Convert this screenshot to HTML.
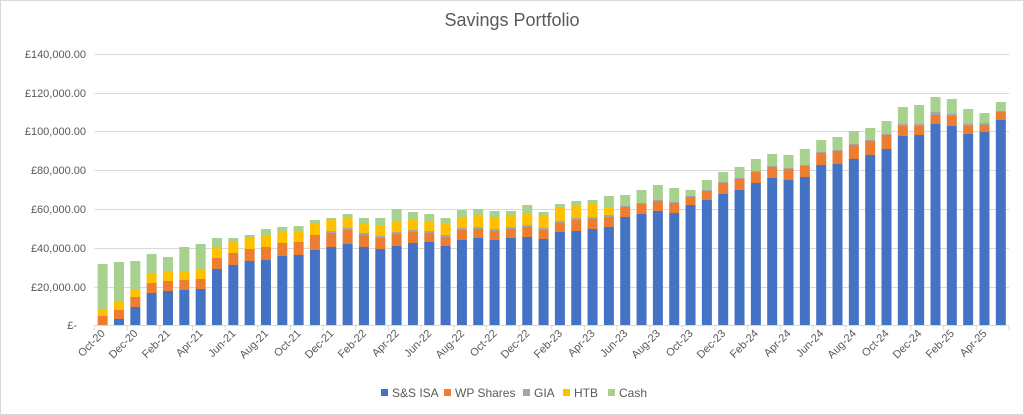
<!DOCTYPE html>
<html><head><meta charset="utf-8"><style>
body{margin:0;background:#fff}
svg{display:block;font-family:"Liberation Sans",sans-serif}
</style></head><body>
<svg id="c" width="1024" height="415" xmlns="http://www.w3.org/2000/svg">
<rect x="0.5" y="0.5" width="1023" height="414" fill="#fff" stroke="#d9d9d9"/>
<text x="512" y="26" text-anchor="middle" font-size="18" fill="#595959">Savings Portfolio</text>
<g id="grid" stroke="#d9d9d9" stroke-width="1"></g>
<g id="bars"></g>
<g id="lab" font-size="11" fill="#595959"></g>
<g font-size="12" fill="#595959">
<rect x="381" y="389" width="7" height="7" fill="#4472C4"/><text x="392" y="397">S&amp;S ISA</text>
<rect x="444" y="389" width="7" height="7" fill="#ED7D31"/><text x="455" y="397">WP Shares</text>
<rect x="523" y="389" width="7" height="7" fill="#A5A5A5"/><text x="534" y="397">GIA</text>
<rect x="563" y="389" width="7" height="7" fill="#FFC000"/><text x="574" y="397">HTB</text>
<rect x="608" y="389" width="7" height="7" fill="#A9D18E"/><text x="619" y="397">Cash</text>
</g>
</svg>
<script>
var B=325;
var d=[
[325,316,316,309,264],[319,310,310,302,262],[307,297,297,290,261],[293,283,283,274,254],[291,281,281,272,257],
[290,280,280,271,247],[289,279,279,269,244],[269,258,258,248,238],[265,253,253,242,238],[261,249,249,238,235],
[260,247,247,235,229],[256,243,243,232,227],[255,242,242,231,226],[250,235,235,224,220],[247,233,231,220,218],
[244,230,228,218,214],[247,235,233,223,218],[249,238,236,226,218],[246,234,232,222,209],[243,232,230,219,212],
[242,233,231,222,214],[246,237,235,224,218],[240,230,228,217,210],[238,229,227,215,209],[240,231,229,217,211],
[238,229,227,215,211],[237,227,225,213,205],[239,230,228,215,212],[232,223,221,207,204],[231,220,218,205,201],
[229,219,217,203,200],[227,217,215,207,196],[217,207,206,205,195],[214,204,203,203,190],[211,201,200,200,185],
[213,203,202,202,188],[205,197,196,196,190],[200,191,190,190,180],[194,183,182,182,172],[190,179,178,178,167],
[183,172,171,171,159],[178,167,166,166,154],[180,169,168,168,155],[177,166,165,165,149],[165,153,152,152,140],
[164,151,150,150,137],[159,145,144,144,131],[155,141,140,140,128],[149,135,134,134,121],[136,126,124,124,107],
[135,126,124,124,105],[124,115,112,112,97],[126,116,114,114,99],[134,126,124,124,109],[132,125,123,123,113],
[120,112,111,111,102]];
var cols=["#4472C4","#ED7D31","#A5A5A5","#FFC000","#A9D18E"];
var ns="http://www.w3.org/2000/svg";
function el(p,t,a,txt){var e=document.createElementNS(ns,t);for(var k in a)e.setAttribute(k,a[k]);if(txt)e.textContent=txt;p.appendChild(e);return e;}
var g=document.getElementById('grid'),lab=document.getElementById('lab'),bars=document.getElementById('bars');
var ys=[325,287,248,209,170,131,93,54];
var names=["£-","£20,000.00","£40,000.00","£60,000.00","£80,000.00","£100,000.00","£120,000.00","£140,000.00"];
for(var i=0;i<8;i++){ if(i>0)el(g,'line',{x1:94.5,x2:1009,y1:ys[i]+0.5,y2:ys[i]+0.5});
 el(lab,'text',{x:i==0?77:86,y:ys[i]+4,'text-anchor':'end'},names[i]);}
el(g,'line',{x1:94.5,x2:1009,y1:325.5,y2:325.5});
var L=94.5,W=16.33;
for(var i=0;i<=56;i+=2)el(g,'line',{x1:L+i*W,x2:L+i*W,y1:325.5,y2:330.5});
var mon=["Jan","Feb","Mar","Apr","May","Jun","Jul","Aug","Sep","Oct","Nov","Dec"];
for(var i=0;i<56;i++){
 var cx=L+W*(i+0.5),x=cx-5,prev=B,r=d[i];
 for(var s=0;s<5;s++){var t=r[s];if(t<prev){el(bars,'rect',{x:x,y:t,width:10,height:prev-t,fill:cols[s]});prev=t;}}
 if(i%2==0){var m=(9+i)%12,y=20+Math.floor((9+i)/12);
  el(lab,'text',{x:cx+3,y:334,'text-anchor':'end',transform:'rotate(-45 '+(cx+3)+' 334)'},mon[m]+'-'+y);}
}
</script>
</body></html>
